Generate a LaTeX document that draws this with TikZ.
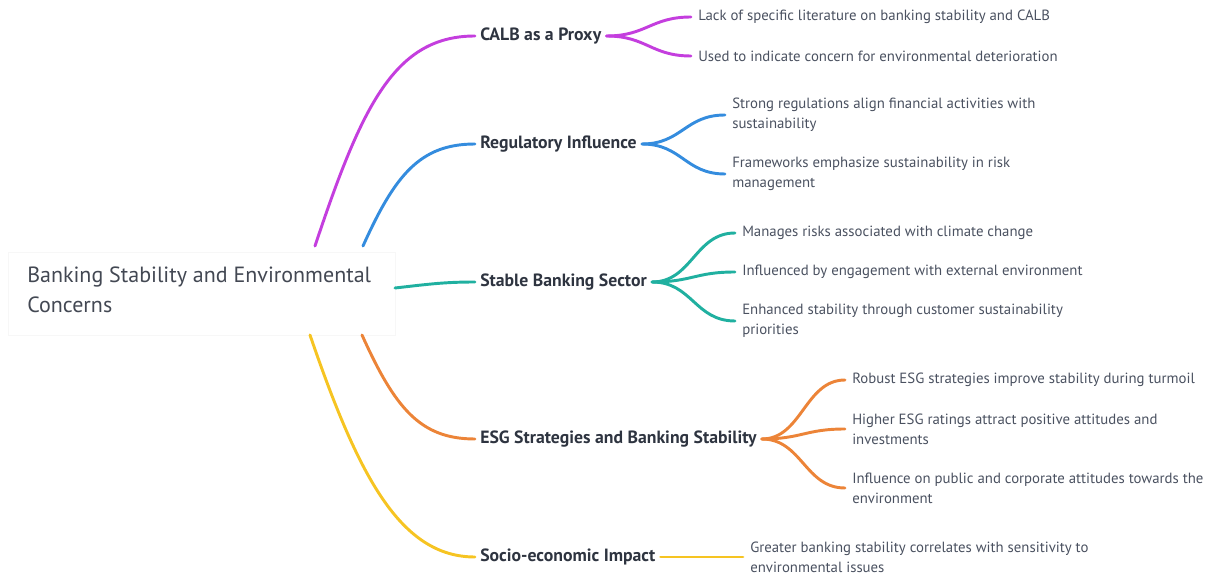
\documentclass[tikz,border=0pt]{standalone}
\usepackage{fontspec}
\setmainfont{PT Sans}
\usepackage{tikz}
\usetikzlibrary{positioning,calc}

\definecolor{cMag}{RGB}{196,62,222}
\definecolor{cBlue}{RGB}{52,140,222}
\definecolor{cTeal}{RGB}{32,176,160}
\definecolor{cOrange}{RGB}{236,132,56}
\definecolor{cYellow}{RGB}{246,196,34}
\definecolor{cLabel}{RGB}{46,52,64}
\definecolor{cLeaf}{RGB}{74,81,96}

\tikzset{
  rootbox/.style={draw=black!3,fill=white,anchor=north west,inner sep=0pt,minimum width=290.25pt,minimum height=62.25pt},
  rootlbl/.style={anchor=base west,inner sep=0pt,align=left,text=cLabel!90,font=\fontsize{16.5}{22.5}\selectfont},
  branchlbl/.style={anchor=west,inner xsep=3.75pt,inner ysep=1pt,text=cLabel,font=\fontsize{13.3}{15}\selectfont\bfseries},
  leaflbl/.style={anchor=west,inner xsep=5.25pt,inner ysep=1pt,align=left,text=cLeaf,font=\fontsize{11.1}{15}\selectfont},
  wire/.style={line width=2.2pt,line cap=round}
}

\begin{document}
\begin{tikzpicture}[x=0.75pt,y=0.75pt,yscale=-1,xscale=1]
\useasboundingbox (0,0) rectangle (1210,577);

% Root
\node [rootbox] (root) at (8,252) {};
\node [rootlbl] (roottxt) at (27,313) {Banking Stability and Environmental\\Concerns};
\coordinate (rMag) at (315,246);
\coordinate (rBlue) at (363,246);
\coordinate (rTeal) at (395,288);
\coordinate (rOrange) at (362,335);
\coordinate (rYellow) at (310,335);

% Branch Nodes
\node [branchlbl] (calb) at (475,36) {CALB as a Proxy};
\node [branchlbl] (regul) at (475,144) {Regulatory Influence};
\node [branchlbl] (stable) at (475,282) {Stable Banking Sector};
\node [branchlbl] (esg) at (475,439) {ESG Strategies and Banking Stability};
\node [branchlbl] (socio) at (475,557) {Socio-economic Impact};

% Leaf Nodes
\node [leaflbl] (calbA) at (691,17) {Lack of specific literature on banking stability and CALB};
\node [leaflbl] (calbB) at (691,56) {Used to indicate concern for environmental deterioration};
\node [leaflbl] (regulA) at (725,115) {Strong regulations align financial activities with\\sustainability};
\node [leaflbl] (regulB) at (725,174) {Frameworks emphasize sustainability in risk\\management};
\node [leaflbl] (stableA) at (735,233) {Manages risks associated with climate change};
\node [leaflbl] (stableB) at (735,272) {Influenced by engagement with external environment};
\node [leaflbl] (stableC) at (735,321) {Enhanced stability through customer sustainability\\priorities};
\node [leaflbl] (esgA) at (845,380) {Robust ESG strategies improve stability during turmoil};
\node [leaflbl] (esgB) at (845,429) {Higher ESG ratings attract positive attitudes and\\investments};
\node [leaflbl] (esgC) at (845,488) {Influence on public and corporate attitudes towards the\\environment};
\node [leaflbl] (socioA) at (743,557) {Greater banking stability correlates with sensitivity to\\environmental issues};

% Root to branches
\draw [wire,cMag] (rMag) .. controls (362,105) and (395,36) .. (calb.west);
\draw [wire,cBlue] (rBlue) .. controls (395,175) and (420,144) .. (regul.west);
\draw [wire,cTeal] (rTeal) .. controls (430,284) and (445,282) .. (stable.west);
\draw [wire,cOrange] (rOrange) .. controls (395,408) and (420,439) .. (esg.west);
\draw [wire,cYellow] (rYellow) .. controls (358,475) and (400,557) .. (socio.west);

% Branches to leaves
\foreach \lf in {calbA,calbB}
  \draw [wire,cMag] (calb.east) .. controls ($(calb.east)+(40,0)$) and ($(\lf.west)+(-40,0)$) .. (\lf.west);
\foreach \lf in {regulA,regulB}
  \draw [wire,cBlue] (regul.east) .. controls ($(regul.east)+(40,0)$) and ($(\lf.west)+(-40,0)$) .. (\lf.west);
\foreach \lf in {stableA,stableB,stableC}
  \draw [wire,cTeal] (stable.east) .. controls ($(stable.east)+(40,0)$) and ($(\lf.west)+(-40,0)$) .. (\lf.west);
\foreach \lf in {esgA,esgB,esgC}
  \draw [wire,cOrange] (esg.east) .. controls ($(esg.east)+(40,0)$) and ($(\lf.west)+(-40,0)$) .. (\lf.west);
\draw [wire,cYellow] (socio.east) -- (socioA.west);

\end{tikzpicture}
\end{document}
